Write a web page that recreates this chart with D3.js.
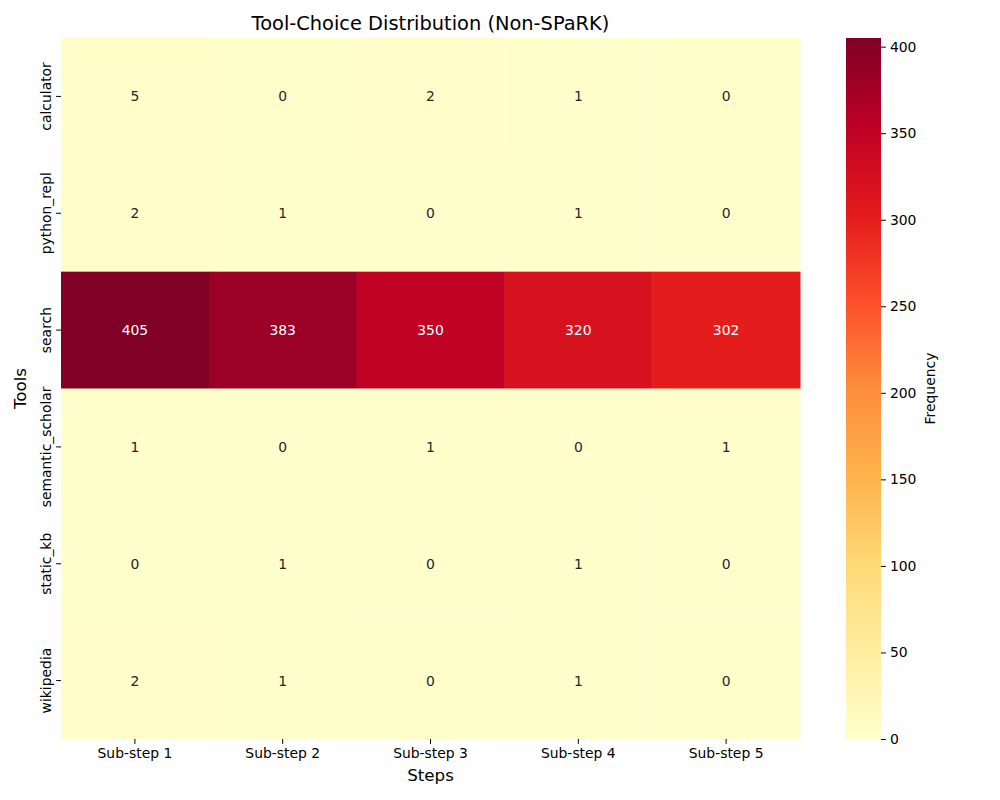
<!DOCTYPE html>
<html>
<head>
<meta charset="utf-8">
<script src="https://cdn.jsdelivr.net/npm/d3@7"></script>
<style>
  body { margin: 0; background: #fff; }
  svg text { font-family: "DejaVu Sans", sans-serif; }
</style>
</head>
<body>
<svg id="chart" width="1000" height="800"></svg>
<script>
// data
var tools = ["calculator", "python_repl", "search", "semantic_scholar", "static_kb", "wikipedia"];
var steps = ["Sub-step 1", "Sub-step 2", "Sub-step 3", "Sub-step 4", "Sub-step 5"];
var calculator = [5, 0, 2, 1, 0];
var python_repl = [2, 1, 0, 1, 0];
var search = [405, 383, 350, 320, 302];
var semantic_scholar = [1, 0, 1, 0, 1];
var static_kb = [0, 1, 0, 1, 0];
var wikipedia = [2, 1, 0, 1, 0];
var cbTicks = [0, 50, 100, 150, 200, 250, 300, 350, 400];

var rows = [calculator, python_repl, search, semantic_scholar, static_kb, wikipedia];
var cells = [];
rows.forEach(function(r, i) {
	r.forEach(function(v, j) {
		cells.push({tool: tools[i], step: steps[j], value: v});
	});
});

var svg = d3.select("#chart");
// note: "top" is a reserved window property, so use other names
var plotL = 61, plotR = 800, plotT = 38, plotB = 739;

var x = d3.scaleBand().domain(steps).range([plotL, plotR]);
var y = d3.scaleBand().domain(tools).range([plotT, plotB]);

// YlOrRd, linear between the 9 anchor colours like matplotlib
var ylorrd = ["#ffffcc", "#ffeda0", "#fed976", "#feb24c", "#fd8d3c", "#fc4e2a", "#e31a1c", "#bd0026", "#800026"];
var vmax = d3.max(cells, function(d) { return d.value; });
var color = d3.scaleLinear()
	.domain(ylorrd.map(function(c, i) { return i / (ylorrd.length - 1) * vmax; }))
	.range(ylorrd)
	.interpolate(d3.interpolateRgb);

function luminance(c) {
	var rgb = d3.rgb(c);
	var f = function(v) {
		v = v / 255;
		return v <= 0.03928 ? v / 12.92 : Math.pow((v + 0.055) / 1.055, 2.4);
	};
	return 0.2126 * f(rgb.r) + 0.7152 * f(rgb.g) + 0.0722 * f(rgb.b);
}

// cells
svg.selectAll(".cell")
	.data(cells)
	.enter().append("rect")
	.attr("class", "cell")
	.attr("x", function(d) { return x(d.step); })
	.attr("y", function(d) { return y(d.tool); })
	.attr("width", x.bandwidth() + 0.5)
	.attr("height", y.bandwidth() + 0.5)
	.style("fill", function(d) { return color(d.value); });

svg.selectAll(".annot")
	.data(cells)
	.enter().append("text")
	.attr("class", "annot")
	.attr("x", function(d) { return x(d.step) + x.bandwidth() / 2; })
	.attr("y", function(d) { return y(d.tool) + y.bandwidth() / 2; })
	.attr("text-anchor", "middle")
	.attr("dy", "0.36em")
	.style("font-size", "13.9px")
	.style("fill", function(d) { return luminance(color(d.value)) > 0.408 ? "#262626" : "#ffffff"; })
	.text(function(d) { return d.value; });

// axes
var xAxis = svg.append("g")
	.attr("transform", "translate(0," + plotB + ")")
	.call(d3.axisBottom(x).tickSize(4.9).tickPadding(4));
xAxis.select(".domain").remove();
xAxis.selectAll("text").style("font-size", "13.9px").style("fill", "#000");
xAxis.selectAll("line").style("stroke", "#000").style("stroke-width", 1);

var yAxis = svg.append("g")
	.attr("transform", "translate(" + plotL + ",0)")
	.call(d3.axisLeft(y).tickSize(4.9).tickPadding(4));
yAxis.select(".domain").remove();
yAxis.selectAll("line").style("stroke", "#000").style("stroke-width", 1);
yAxis.selectAll("text")
	.style("font-size", "13.9px")
	.style("fill", "#000")
	.attr("text-anchor", "middle")
	.attr("x", null)
	.attr("dy", null)
	.attr("transform", "translate(-10,0) rotate(-90)");

// titles
svg.append("text")
	.attr("x", (plotL + plotR) / 2)
	.attr("y", 30)
	.attr("text-anchor", "middle")
	.style("font-size", "19.4px")
	.text("Tool-Choice Distribution (Non-SPaRK)");

svg.append("text")
	.attr("x", (plotL + plotR) / 2)
	.attr("y", 781)
	.attr("text-anchor", "middle")
	.style("font-size", "16.7px")
	.text("Steps");

svg.append("text")
	.attr("transform", "translate(26," + ((plotT + plotB) / 2) + ") rotate(-90)")
	.attr("text-anchor", "middle")
	.style("font-size", "16.7px")
	.text("Tools");

// colorbar
var cbX = 846, cbW = 35;
var cy = d3.scaleLinear().domain([0, vmax]).range([plotB, plotT]);

var grad = svg.append("defs").append("linearGradient")
	.attr("id", "cbgrad")
	.attr("x1", "0").attr("y1", "1").attr("x2", "0").attr("y2", "0");
grad.selectAll("stop")
	.data(ylorrd)
	.enter().append("stop")
	.attr("offset", function(d, i) { return i / (ylorrd.length - 1); })
	.attr("stop-color", function(d) { return d; });

svg.append("rect")
	.attr("x", cbX)
	.attr("y", plotT)
	.attr("width", cbW)
	.attr("height", plotB - plotT)
	.style("fill", "url(#cbgrad)");

var cbAxis = svg.append("g")
	.attr("transform", "translate(" + (cbX + cbW) + ",0)")
	.call(d3.axisRight(cy).tickValues(cbTicks).tickSize(4.9).tickPadding(4));
cbAxis.select(".domain").remove();
cbAxis.selectAll("text").style("font-size", "13.9px").style("fill", "#000");
cbAxis.selectAll("line").style("stroke", "#000").style("stroke-width", 1);

svg.append("text")
	.attr("transform", "translate(935," + ((plotT + plotB) / 2) + ") rotate(-90)")
	.attr("text-anchor", "middle")
	.style("font-size", "13.9px")
	.text("Frequency");
</script>
</body>
</html>
